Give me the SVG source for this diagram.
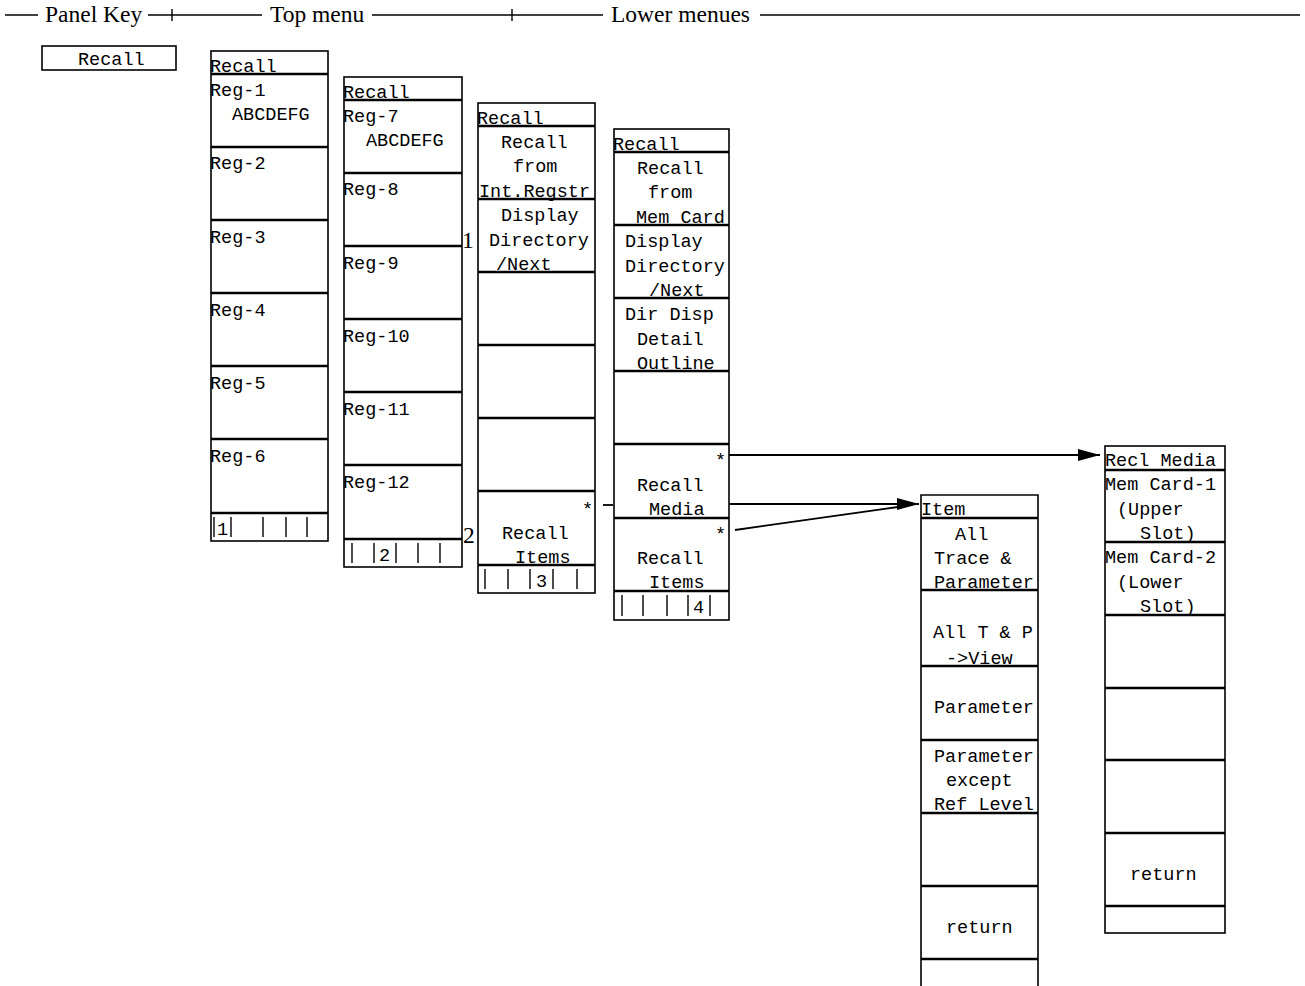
<svg xmlns="http://www.w3.org/2000/svg" width="1305" height="986" viewBox="0 0 1305 986">
<style>
.box{fill:#fff;stroke:#000;stroke-width:1.6}
.sep{stroke:#000;stroke-width:2.4}
.tick{stroke:#000;stroke-width:1.4}
.t{font-family:"Liberation Mono","Courier New",monospace;font-size:18.5px;fill:#000}
.h{font-family:"Liberation Serif","Times New Roman",serif;font-size:23.5px;fill:#000}
.hl{stroke:#000;stroke-width:1.4}
.c{stroke:#000;stroke-width:1.8;fill:none}
</style>
<defs>
<marker id="ah" markerWidth="24" markerHeight="14" refX="22" refY="7" orient="auto" markerUnits="userSpaceOnUse">
<path d="M0,1 L22,7 L0,13 Z" fill="#000"/>
</marker>
</defs>
<rect width="1305" height="986" fill="#fff"/>
<g id="header">
<line class="hl" x1="5" y1="15" x2="38" y2="15"/>
<text class="h" x="45" y="22">Panel Key</text>
<line class="hl" x1="148" y1="15" x2="262" y2="15"/>
<line class="hl" x1="172" y1="9" x2="172" y2="21"/>
<text class="h" x="270" y="22">Top menu</text>
<line class="hl" x1="372" y1="15" x2="603" y2="15"/>
<line class="hl" x1="512" y1="9" x2="512" y2="21"/>
<text class="h" x="611" y="22">Lower menues</text>
<line class="hl" x1="760" y1="15" x2="1300" y2="15"/>
</g>
<g id="key-recall">
<rect class="box" x="42" y="46" width="134" height="24"/>
<text class="t" x="78" y="65">Recall</text>
</g>
<g id="menu1">
<rect class="box" x="211" y="51" width="117" height="490"/>
<line class="sep" x1="211" y1="74" x2="328" y2="74"/>
<line class="sep" x1="211" y1="147" x2="328" y2="147"/>
<line class="sep" x1="211" y1="220" x2="328" y2="220"/>
<line class="sep" x1="211" y1="293" x2="328" y2="293"/>
<line class="sep" x1="211" y1="366" x2="328" y2="366"/>
<line class="sep" x1="211" y1="439" x2="328" y2="439"/>
<line class="sep" x1="211" y1="513" x2="328" y2="513"/>
<text class="t" x="210" y="72">Recall</text>
<text class="t" x="210" y="96">Reg-1</text>
<text class="t" x="232" y="120">ABCDEFG</text>
<text class="t" x="210" y="169">Reg-2</text>
<text class="t" x="210" y="243">Reg-3</text>
<text class="t" x="210" y="316">Reg-4</text>
<text class="t" x="210" y="389">Reg-5</text>
<text class="t" x="210" y="462">Reg-6</text>
<line class="tick" x1="214" y1="517" x2="214" y2="537"/>
<line class="tick" x1="231" y1="517" x2="231" y2="537"/>
<line class="tick" x1="263" y1="517" x2="263" y2="537"/>
<line class="tick" x1="286" y1="517" x2="286" y2="537"/>
<line class="tick" x1="307" y1="517" x2="307" y2="537"/>
<text class="t" x="217" y="535">1</text>
</g>
<g id="menu2">
<rect class="box" x="344" y="77" width="118" height="490"/>
<line class="sep" x1="344" y1="100" x2="462" y2="100"/>
<line class="sep" x1="344" y1="173" x2="462" y2="173"/>
<line class="sep" x1="344" y1="246" x2="462" y2="246"/>
<line class="sep" x1="344" y1="319" x2="462" y2="319"/>
<line class="sep" x1="344" y1="392" x2="462" y2="392"/>
<line class="sep" x1="344" y1="465" x2="462" y2="465"/>
<line class="sep" x1="344" y1="539" x2="462" y2="539"/>
<text class="t" x="343" y="98">Recall</text>
<text class="t" x="343" y="122">Reg-7</text>
<text class="t" x="366" y="146">ABCDEFG</text>
<text class="t" x="343" y="195">Reg-8</text>
<text class="t" x="343" y="269">Reg-9</text>
<text class="t" x="343" y="342">Reg-10</text>
<text class="t" x="343" y="415">Reg-11</text>
<text class="t" x="343" y="488">Reg-12</text>
<line class="tick" x1="352" y1="543" x2="352" y2="563"/>
<line class="tick" x1="374" y1="543" x2="374" y2="563"/>
<line class="tick" x1="396" y1="543" x2="396" y2="563"/>
<line class="tick" x1="418" y1="543" x2="418" y2="563"/>
<line class="tick" x1="440" y1="543" x2="440" y2="563"/>
<text class="t" x="379" y="561">2</text>
<text class="h" x="462" y="248">1</text>
<text class="h" x="463" y="543">2</text>
</g>
<g id="menu3">
<rect class="box" x="478" y="103" width="117" height="490"/>
<line class="sep" x1="478" y1="126" x2="595" y2="126"/>
<line class="sep" x1="478" y1="199" x2="595" y2="199"/>
<line class="sep" x1="478" y1="272" x2="595" y2="272"/>
<line class="sep" x1="478" y1="345" x2="595" y2="345"/>
<line class="sep" x1="478" y1="418" x2="595" y2="418"/>
<line class="sep" x1="478" y1="491" x2="595" y2="491"/>
<line class="sep" x1="478" y1="565" x2="595" y2="565"/>
<text class="t" x="477" y="124">Recall</text>
<text class="t" x="501" y="148">Recall</text>
<text class="t" x="513" y="172">from</text>
<text class="t" x="479" y="197">Int.Regstr</text>
<text class="t" x="501" y="221">Display</text>
<text class="t" x="489" y="246">Directory</text>
<text class="t" x="496" y="270">/Next</text>
<text class="t" x="582" y="515">*</text>
<text class="t" x="502" y="539">Recall</text>
<text class="t" x="515" y="563">Items</text>
<line class="tick" x1="485" y1="569" x2="485" y2="589"/>
<line class="tick" x1="508" y1="569" x2="508" y2="589"/>
<line class="tick" x1="530" y1="569" x2="530" y2="589"/>
<line class="tick" x1="553" y1="569" x2="553" y2="589"/>
<line class="tick" x1="577" y1="569" x2="577" y2="589"/>
<text class="t" x="536" y="587">3</text>
</g>
<g id="menu4">
<rect class="box" x="614" y="129" width="115" height="491"/>
<line class="sep" x1="614" y1="152" x2="729" y2="152"/>
<line class="sep" x1="614" y1="225" x2="729" y2="225"/>
<line class="sep" x1="614" y1="298" x2="729" y2="298"/>
<line class="sep" x1="614" y1="371" x2="729" y2="371"/>
<line class="sep" x1="614" y1="444" x2="729" y2="444"/>
<line class="sep" x1="614" y1="518" x2="729" y2="518"/>
<line class="sep" x1="614" y1="591" x2="729" y2="591"/>
<text class="t" x="613" y="150">Recall</text>
<text class="t" x="637" y="174">Recall</text>
<text class="t" x="648" y="198">from</text>
<text class="t" x="636" y="223">Mem Card</text>
<text class="t" x="625" y="247">Display</text>
<text class="t" x="625" y="272">Directory</text>
<text class="t" x="649" y="296">/Next</text>
<text class="t" x="625" y="320">Dir Disp</text>
<text class="t" x="637" y="345">Detail</text>
<text class="t" x="637" y="369">Outline</text>
<text class="t" x="715" y="466">*</text>
<text class="t" x="637" y="491">Recall</text>
<text class="t" x="649" y="515">Media</text>
<text class="t" x="715" y="540">*</text>
<text class="t" x="637" y="564">Recall</text>
<text class="t" x="649" y="588">Items</text>
<line class="tick" x1="622" y1="595" x2="622" y2="616"/>
<line class="tick" x1="643" y1="595" x2="643" y2="616"/>
<line class="tick" x1="667" y1="595" x2="667" y2="616"/>
<line class="tick" x1="688" y1="595" x2="688" y2="616"/>
<line class="tick" x1="710" y1="595" x2="710" y2="616"/>
<text class="t" x="693" y="613">4</text>
</g>
<g id="menu-item">
<path class="box" d="M921,990 L921,495 L1038,495 L1038,990"/>
<line class="sep" x1="921" y1="518" x2="1038" y2="518"/>
<line class="sep" x1="921" y1="590" x2="1038" y2="590"/>
<line class="sep" x1="921" y1="666" x2="1038" y2="666"/>
<line class="sep" x1="921" y1="740" x2="1038" y2="740"/>
<line class="sep" x1="921" y1="813" x2="1038" y2="813"/>
<line class="sep" x1="921" y1="886" x2="1038" y2="886"/>
<line class="sep" x1="921" y1="959" x2="1038" y2="959"/>
<text class="t" x="921" y="515">Item</text>
<text class="t" x="955" y="540">All</text>
<text class="t" x="934" y="564">Trace &amp;</text>
<text class="t" x="934" y="588">Parameter</text>
<text class="t" x="933" y="638">All T &amp; P</text>
<text class="t" x="946" y="664">-&gt;View</text>
<text class="t" x="934" y="713">Parameter</text>
<text class="t" x="934" y="762">Parameter</text>
<text class="t" x="946" y="786">except</text>
<text class="t" x="934" y="810">Ref Level</text>
<text class="t" x="946" y="933">return</text>
</g>
<g id="menu-recl-media">
<rect class="box" x="1105" y="446" width="120" height="487"/>
<line class="sep" x1="1105" y1="470" x2="1225" y2="470"/>
<line class="sep" x1="1105" y1="542" x2="1225" y2="542"/>
<line class="sep" x1="1105" y1="615" x2="1225" y2="615"/>
<line class="sep" x1="1105" y1="688" x2="1225" y2="688"/>
<line class="sep" x1="1105" y1="760" x2="1225" y2="760"/>
<line class="sep" x1="1105" y1="833" x2="1225" y2="833"/>
<line class="sep" x1="1105" y1="906" x2="1225" y2="906"/>
<text class="t" x="1105" y="466">Recl Media</text>
<text class="t" x="1105" y="490">Mem Card-1</text>
<text class="t" x="1117" y="515">(Upper</text>
<text class="t" x="1140" y="539">Slot)</text>
<text class="t" x="1105" y="563">Mem Card-2</text>
<text class="t" x="1117" y="588">(Lower</text>
<text class="t" x="1140" y="612">Slot)</text>
<text class="t" x="1130" y="880">return</text>
</g>
<g id="connectors">
<line class="c" x1="603" y1="505" x2="613" y2="505"/>
<line class="c" x1="729" y1="455" x2="1100" y2="455" marker-end="url(#ah)"/>
<line class="c" x1="729" y1="504" x2="919" y2="504" marker-end="url(#ah)"/>
<line class="c" x1="735" y1="530" x2="905" y2="506"/>
</g>
</svg>
